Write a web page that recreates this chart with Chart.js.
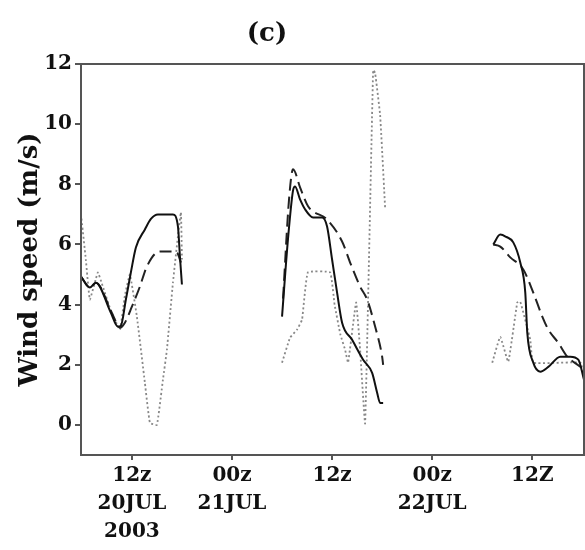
<!DOCTYPE html>
<html>
<head>
<meta charset="utf-8">
<script src="https://cdn.jsdelivr.net/npm/chart.js@4/dist/chart.umd.min.js"></script>
<style>
  body { margin: 0; background: #fff; }
  #wrap { position: relative; width: 585px; height: 550px; }
  #title {
    position: absolute; left: 217px; top: 17px; width: 100px;
    text-align: center; font: bold 26px "DejaVu Serif", serif; color: #111;
  }
</style>
</head>
<body>
<div id="wrap">
  <div id="title">(c)</div>
  <canvas id="wind-chart" width="585" height="550"></canvas>
</div>
<script>
// Hours counted from 00z 20 JUL 2003, null marks the gaps between the three runs
const solidHours = [5.9, 6.96, 7.68, 9.48, 10.32, 10.68, 11.28, 11.88, 12.48, 13.56, 14.28, 15.12, 16.92, 17.52, 17.76, 18.0,
  24,
  30.0, 30.72, 31.32, 31.56, 32.16, 32.76, 33.72, 34.8, 35.4, 36.0, 36.6, 37.2, 38.4, 39.72, 40.8, 41.4, 41.76, 42.12,
  48,
  55.32, 56.16, 56.88, 57.72, 58.56, 59.16, 59.4, 60.12, 60.96, 61.92, 63.36, 64.56, 65.52, 66.2];
const solidSpeed = [4.93, 4.57, 4.73, 3.73, 3.27, 3.3, 4.17, 5.07, 5.9, 6.5, 6.85, 7.0, 7.0, 6.6, 5.6, 4.67,
  null,
  3.6, 6.2, 7.8, 7.93, 7.5, 7.17, 6.9, 6.9, 6.6, 5.5, 4.4, 3.4, 2.83, 2.17, 1.73, 1.07, 0.73, 0.73,
  null,
  6.0, 6.33, 6.25, 6.07, 5.4, 4.4, 3.07, 2.07, 1.77, 1.93, 2.27, 2.27, 2.17, 1.5];

const dashedHours = [5.9, 6.96, 7.68, 9.48, 10.32, 10.56, 11.16, 12.0, 12.96, 13.8, 15.36, 16.56, 17.4, 17.88,
  24,
  30.12, 30.84, 31.32, 32.16, 33.12, 35.4, 37.2, 38.16, 39.36, 40.2, 41.16, 42.0, 42.12,
  48,
  55.32, 56.16, 57.36, 58.92, 60.12, 61.2, 61.92, 63.12, 64.2, 65.76, 66.2];
const dashedSpeed = [4.93, 4.57, 4.73, 3.8, 3.3, 3.23, 3.4, 3.93, 4.6, 5.27, 5.77, 5.77, 5.73, 5.4,
  null,
  4.2, 7.5, 8.5, 7.9, 7.27, 6.83, 6.1, 5.4, 4.6, 4.17, 3.27, 2.27, 2.0,
  null,
  6.0, 5.93, 5.57, 5.17, 4.4, 3.6, 3.17, 2.73, 2.27, 1.93, 1.8];

const dottedHours = [5.9, 6.48, 6.96, 7.92, 8.4, 9.48, 10.56, 11.16, 11.76, 12.6, 13.56, 14.16, 15.0, 15.72, 16.2, 16.92, 17.52, 17.88, 18.0,
  24,
  30.0, 30.96, 31.8, 32.4, 33.1, 35.76, 36.3, 37.0, 37.56, 37.92, 38.88, 39.36, 39.96, 40.92, 41.16, 41.76, 42.36,
  48,
  55.2, 56.16, 57.12, 58.2, 58.56, 59.76, 60.12, 65.76, 66.2];
const dottedSpeed = [7.0, 5.5, 4.17, 5.07, 4.7, 3.8, 3.17, 4.3, 5.0, 3.6, 1.4, 0.07, 0.0, 1.5, 2.5, 4.73, 6.27, 7.07, 5.5,
  null,
  2.07, 2.9, 3.17, 3.5, 5.07, 5.07, 4.0, 3.0, 2.5, 2.07, 4.07, 2.5, 0.05, 11.8, 11.7, 10.3, 7.2,
  null,
  2.07, 2.93, 2.1, 4.07, 4.1, 2.83, 2.07, 2.07, 1.6];

// Tick positions (hours) and their labels
const tickHours = [12, 24, 36, 48, 60];
const tickLabels = [['12z', '20JUL', '2003'], ['00z', '21JUL'], ['12z'], ['00z', '22JUL'], ['12Z']];
const speedTicks = [0, 2, 4, 6, 8, 10, 12];

function pairs(hours, speed) {
  return hours.map((h, i) => ({ x: h, y: speed[i] }));
}

const axisColor = '#555';
const tickFont = { family: 'DejaVu Serif', weight: 'bold', size: 20 };

// Draw a box round the plot area
const frame = {
  id: 'frame',
  afterDraw(chart) {
    const a = chart.chartArea;
    const ctx = chart.ctx;
    ctx.save();
    ctx.strokeStyle = axisColor;
    ctx.lineWidth = 2;
    ctx.strokeRect(a.left, a.top, a.right - a.left, a.bottom - a.top);
    ctx.restore();
  }
};

new Chart('wind-chart', {
  type: 'line',
  data: {
    datasets: [
      {
        data: pairs(solidHours, solidSpeed),
        borderColor: '#111', borderWidth: 2, cubicInterpolationMode: 'monotone'
      },
      {
        data: pairs(dashedHours, dashedSpeed),
        borderColor: '#222', borderWidth: 2, borderDash: [12, 6], cubicInterpolationMode: 'monotone'
      },
      {
        data: pairs(dottedHours, dottedSpeed),
        borderColor: '#888', borderWidth: 1.8, borderDash: [2, 2.5], tension: 0.1
      }
    ]
  },
  options: {
    responsive: false,
    animation: false,
    spanGaps: false,
    elements: { point: { radius: 0 } },
    layout: { padding: { top: 64, right: 1, left: 0, bottom: 0 } },
    plugins: { legend: { display: false }, tooltip: { enabled: false } },
    scales: {
      x: {
        type: 'linear',
        min: 5.9,
        max: 66.2,
        afterBuildTicks: scale => { scale.ticks = tickHours.map(v => ({ value: v })); },
        afterFit: scale => { scale.height = 95; },
        border: { display: false },
        grid: { drawOnChartArea: false, color: axisColor, tickLength: 5, lineWidth: 2 },
        ticks: {
          color: '#111', font: { ...tickFont, lineHeight: 1.4 }, padding: 2, maxRotation: 0,
          callback: (v) => tickLabels[tickHours.indexOf(v)]
        }
      },
      y: {
        min: -1,
        max: 12,
        afterBuildTicks: scale => { scale.ticks = speedTicks.map(v => ({ value: v })); },
        afterFit: scale => { scale.width = 81; },
        border: { display: false },
        grid: { drawOnChartArea: false, color: axisColor, tickLength: 6, lineWidth: 2 },
        ticks: { color: '#111', font: tickFont, padding: 3 },
        title: {
          display: true,
          text: 'Wind speed (m/s)',
          color: '#111',
          font: { family: 'DejaVu Serif', weight: 'bold', size: 26 },
          padding: { top: 15, bottom: 0 }
        }
      }
    }
  },
  plugins: [frame]
});
</script>
</body>
</html>
